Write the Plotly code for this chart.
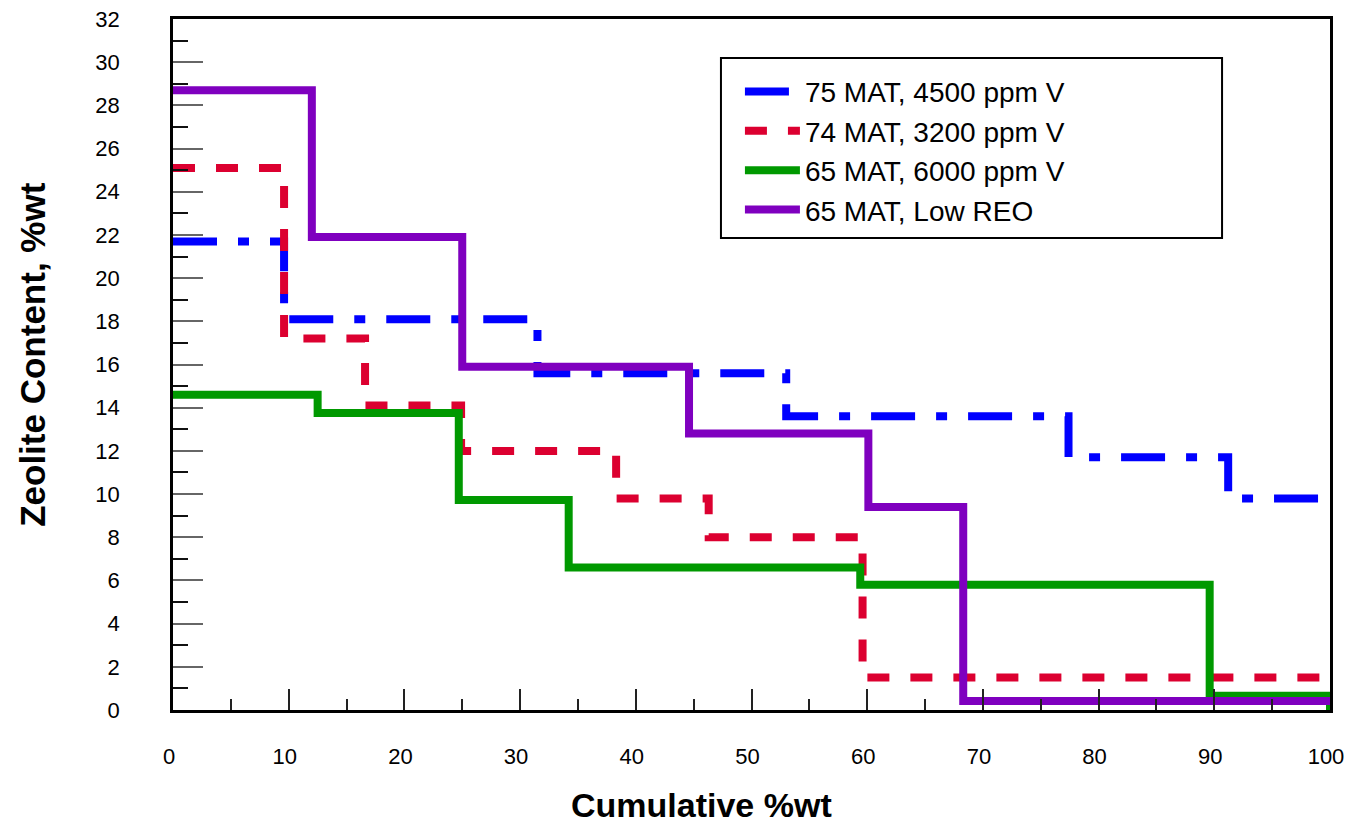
import plotly.graph_objects as go

# ---- data ----
blue_name = "75 MAT, 4500 ppm V"
blue_x = [0, 9.6, 31.5, 53.0, 77.4, 91.2, 100]
blue_y = [21.7, 18.1, 15.6, 13.6, 11.7, 9.8, 9.8]

red_name = "74 MAT, 3200 ppm V"
red_x = [0, 9.6, 16.6, 24.9, 38.3, 46.3, 59.6, 100]
red_y = [25.1, 17.2, 14.1, 12.0, 9.8, 8.0, 1.5, 1.5]

green_name = "65 MAT, 6000 ppm V"
green_x = [0, 12.5, 24.7, 34.2, 59.4, 89.6, 100, 100]
green_y = [14.6, 13.75, 9.73, 6.6, 5.8, 0.66, 0.66, 0]

purple_name = "65 MAT, Low REO"
purple_x = [0, 12.0, 25.0, 44.6, 60.1, 68.3, 100]
purple_y = [28.7, 21.9, 15.9, 12.8, 9.4, 0.42, 0.42]

x_title = "Cumulative %wt"
y_title = "Zeolite Content, %wt"

FONT = "Arial, 'Liberation Sans', sans-serif"

fig = go.Figure()
series = [
    (blue_name, blue_x, blue_y, "#0000FF", "44px,21px,11px,21px"),
    (red_name, red_x, red_y, "#DC0030", "22px,21px"),
    (green_name, green_x, green_y, "#009900", "solid"),
    (purple_name, purple_x, purple_y, "#7F00BF", "solid"),
]
for i, (name, xs, ys, col, dash) in enumerate(series):
    fig.add_trace(go.Scatter(
        x=xs, y=ys, name=name, mode="lines", line_shape="hv",
        line=dict(color=col, width=8, dash=dash),
    ))

fig.update_layout(
    width=1347, height=825,
    margin=dict(l=173, r=17, t=19, b=115),
    paper_bgcolor="white", plot_bgcolor="white",
    font=dict(family=FONT, color="black", size=22),
    showlegend=True,
    legend=dict(
        x=0.4900, y=0.931, xanchor="left", yanchor="top",
        borderwidth=0, bgcolor="rgba(0,0,0,0)",
        font=dict(family=FONT, size=28, color="black"),
        itemwidth=55,
    ),
    shapes=[
        dict(type="rect", xref="paper", yref="paper",
             x0=0.4736, x1=0.9067, y0=0.683, y1=0.9436,
             line=dict(color="black", width=2), fillcolor="white", layer="above"),
    ],
    annotations=[
        dict(text=f"<b>{x_title}</b>", xref="paper", yref="paper",
             x=0.4564, y=-0.1375, xanchor="center", yanchor="middle",
             showarrow=False, font=dict(family=FONT, size=34, color="black")),
        dict(text=f"<b>{y_title}</b>", xref="paper", yref="paper",
             x=-0.121, y=0.514, xanchor="center", yanchor="middle", textangle=-90,
             showarrow=False, font=dict(family=FONT, size=35, color="black")),
    ],
)

fig.update_xaxes(
    range=[0, 100], tickmode="linear", tick0=0, dtick=10,
    ticks="inside", ticklen=21, tickwidth=1.5, tickcolor="#222",
    minor=dict(ticks="inside", ticklen=11, tickwidth=1.5, tickcolor="#222", dtick=5, tick0=0, showgrid=False),
    showgrid=False, zeroline=False, automargin=False,
    showline=True, linecolor="black", linewidth=2.5, mirror=True,
    ticklabelstandoff=25, ticklabelshift=-4, tickfont=dict(size=22), ticklabeloverflow="allow",
)
fig.update_yaxes(
    range=[0, 32], tickmode="linear", tick0=0, dtick=2,
    ticks="inside", ticklen=30, tickwidth=1.5, tickcolor="#666",
    minor=dict(ticks="inside", ticklen=15, tickwidth=1.5, tickcolor="#111", dtick=1, tick0=0, showgrid=False),
    showgrid=False, zeroline=False, automargin=False,
    showline=True, linecolor="black", linewidth=2.5, mirror=True,
    ticklabelstandoff=46, tickfont=dict(size=22), ticklabeloverflow="allow",
)

fig.write_html(
    "out.html",
    config={"displayModeBar": False},
    post_script="document.body.style.margin='0';document.body.style.overflow='hidden';",
)
